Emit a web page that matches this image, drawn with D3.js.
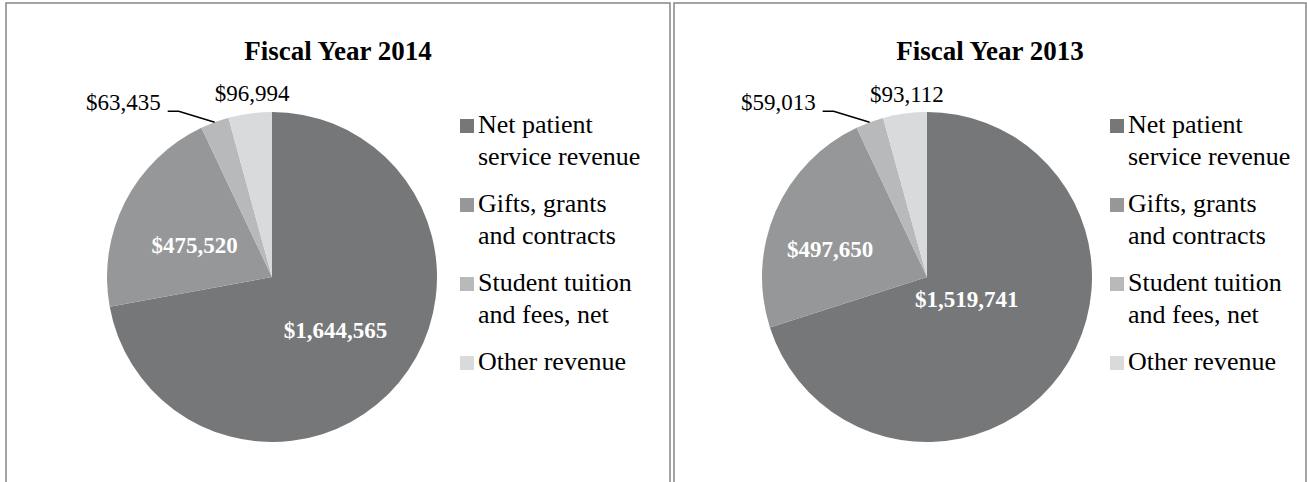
<!DOCTYPE html>
<html>
<head>
<meta charset="utf-8">
<script src="https://d3js.org/d3.v7.min.js"></script>
<style>
  body { margin: 0; background: #fff; }
  svg { display: block; font-family: "Liberation Serif", "Times New Roman", serif; }
</style>
</head>
<body>
<div id="chart"></div>
<script>
// revenue by source, in thousands
const categories = ["Net patient service revenue", "Gifts, grants and contracts", "Student tuition and fees, net", "Other revenue"];
const legendLines = [["Net patient", "service revenue"], ["Gifts, grants", "and contracts"], ["Student tuition", "and fees, net"], ["Other revenue"]];
const years = ["Fiscal Year 2014", "Fiscal Year 2013"];
const values2014 = [1644565, 475520, 63435, 96994];
const values2013 = [1519741, 497650, 59013, 93112];
const sliceColors = ["#767778", "#969798", "#b8b9ba", "#d9dadb"];

const width = 1307, height = 482;
const radius = 165;

// layout of the two chart panels (inside = radial position of the white labels)
const panels = [
  { title: years[0], values: values2014, x0: 6, x1: 670, cx: 272, cy: 277, legendX: 460,
    inside: [{ k: 0.5, dx: 0, dy: 0 }, { k: 0.5, dx: -4, dy: 6 }] },
  { title: years[1], values: values2013, x0: 674, x1: 1306, cx: 927, cy: 277, legendX: 1110,
    inside: [{ k: 0.26, dx: 5, dy: -3 }, { k: 0.6, dx: -6, dy: 11 }] }
];

const fmt = d3.format("$,");
const color = d3.scaleOrdinal().domain(categories).range(sliceColors);

const svg = d3.select('#chart')
  .append('svg')
  .attr('width', width)
  .attr('height', height);

const pie = d3.pie().value(d => d).sort(null);
const arc = d3.arc().innerRadius(0).outerRadius(radius);

panels.forEach(p => {
  // panel frame
  svg.append('rect')
    .attr('x', p.x0)
    .attr('y', 3)
    .attr('width', p.x1 - p.x0)
    .attr('height', height + 10)
    .attr('fill', 'none')
    .attr('stroke', '#868686')
    .attr('stroke-width', 1.5);

  svg.append('text')
    .attr('x', (p.x0 + p.x1) / 2)
    .attr('y', 60)
    .attr('text-anchor', 'middle')
    .style('font-weight', 'bold')
    .style('font-size', '27px')
    .text(p.title);

  const g = svg.append('g')
    .attr('transform', `translate(${p.cx},${p.cy})`);

  const arcs = pie(p.values);

  g.selectAll('path')
    .data(arcs)
    .enter()
    .append('path')
    .attr('d', arc)
    .attr('fill', (d, i) => color(categories[i]));

  // big slices get white bold labels inside
  arcs.slice(0, 2).forEach((d, i) => {
    const pos = p.inside[i];
    const a = (d.startAngle + d.endAngle) / 2;
    g.append('text')
      .attr('x', Math.sin(a) * radius * pos.k + pos.dx)
      .attr('y', -Math.cos(a) * radius * pos.k + pos.dy)
      .attr('dy', '0.35em')
      .attr('text-anchor', 'middle')
      .attr('fill', '#fff')
      .style('font-weight', 'bold')
      .style('font-size', '23px')
      .text(fmt(d.data));
  });

  // student tuition: outside label with leader line
  const st = arcs[2];
  const sa = (st.startAngle + st.endAngle) / 2;
  const ex = Math.sin(sa) * radius, ey = -Math.cos(sa) * radius;
  g.append('polyline')
    .attr('points', [[ex, ey], [ex - 36, ey - 11], [ex - 47, ey - 11]].map(q => q.join(',')).join(' '))
    .attr('fill', 'none')
    .attr('stroke', '#000')
    .attr('stroke-width', 1.5);
  g.append('text')
    .attr('x', ex - 54)
    .attr('y', ey - 12)
    .attr('text-anchor', 'end')
    .style('font-size', '23px')
    .text(fmt(st.data));

  // other revenue: outside label just above the edge
  const ot = arcs[3];
  const oa = (ot.startAngle + ot.endAngle) / 2;
  g.append('text')
    .attr('x', Math.sin(oa) * radius + 2)
    .attr('y', -Math.cos(oa) * radius - 12)
    .attr('text-anchor', 'middle')
    .style('font-size', '23px')
    .text(fmt(ot.data));

  // legend
  const legend = svg.selectAll(null)
    .data(categories)
    .enter()
    .append('g')
    .attr('transform', (d, i) => `translate(${p.legendX},${133 + i * 79})`);

  legend.append('rect')
    .attr('x', 0)
    .attr('y', -14)
    .attr('width', 14)
    .attr('height', 14)
    .attr('fill', d => color(d));

  legend.append('text')
    .style('font-size', '26px')
    .selectAll('tspan')
    .data((d, i) => legendLines[i])
    .enter()
    .append('tspan')
    .attr('x', 18)
    .attr('y', (d, j) => j * 32)
    .text(d => d);
});
</script>
</body>
</html>
